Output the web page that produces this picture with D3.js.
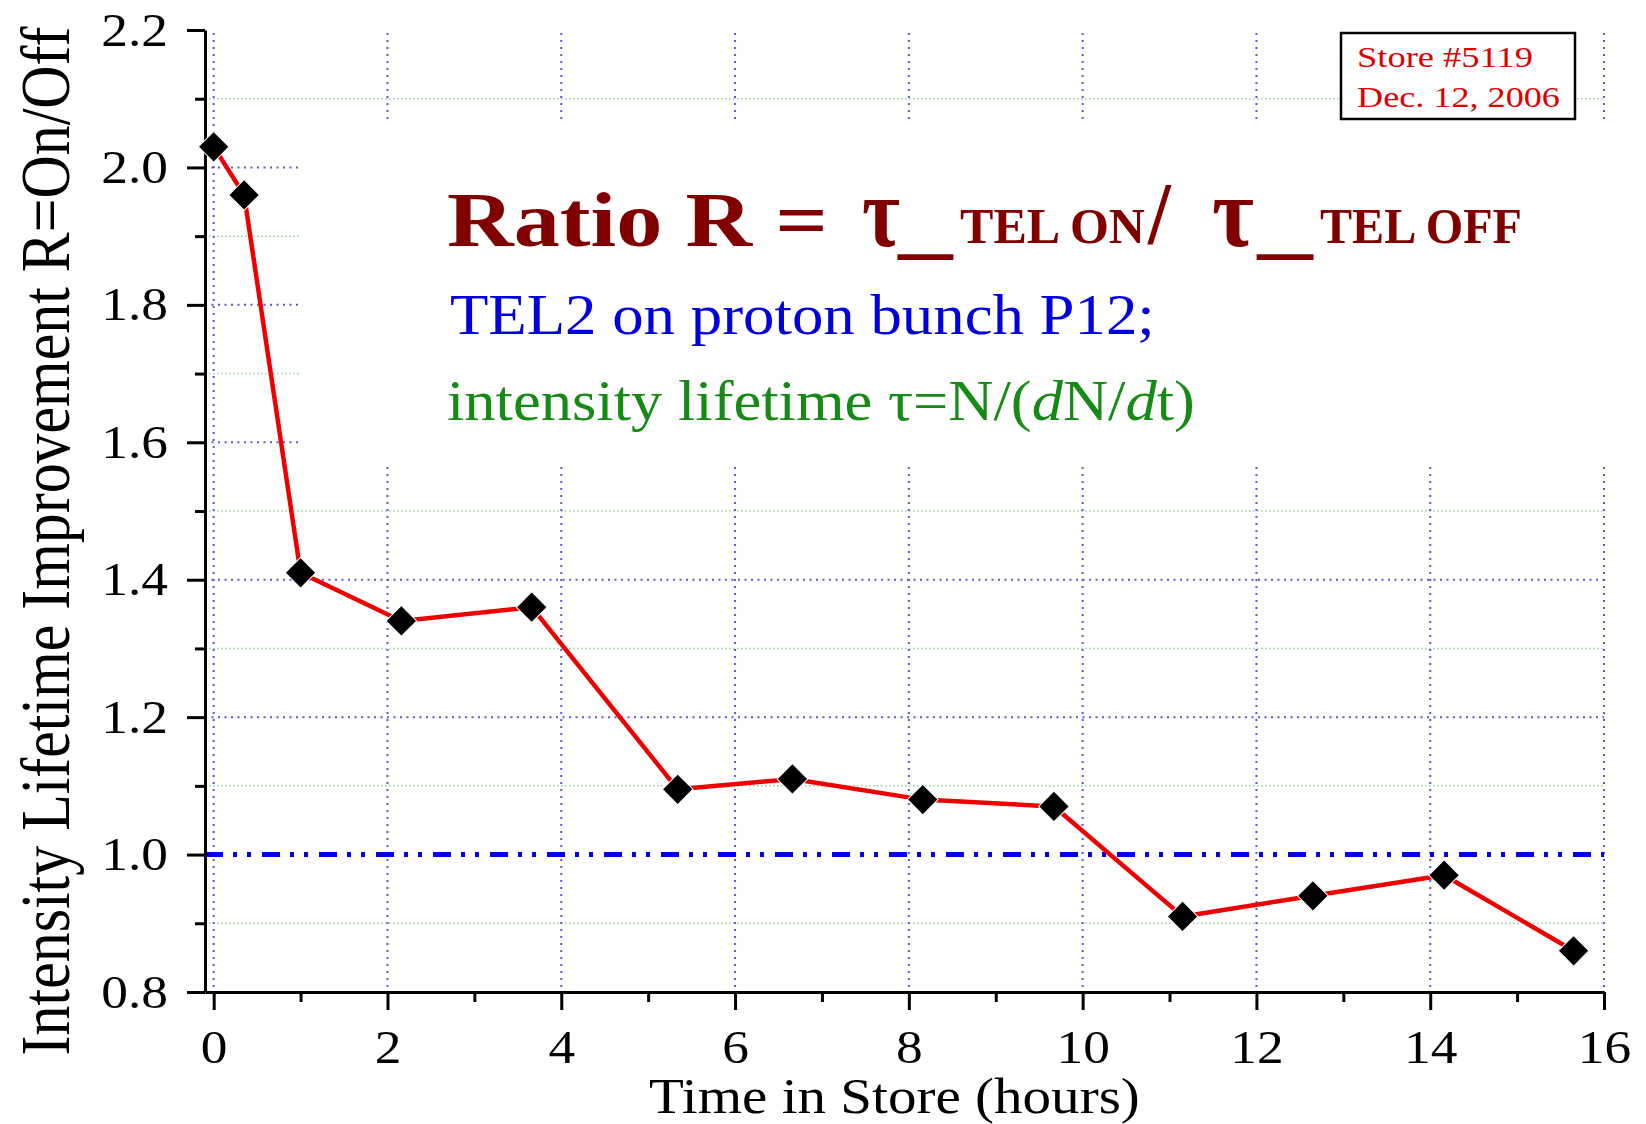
<!DOCTYPE html>
<html>
<head>
<meta charset="utf-8">
<script src="https://cdn.jsdelivr.net/npm/d3@7"></script>
<style>
  html, body { margin: 0; padding: 0; background: #fff; }
  svg { display: block; font-family: "Liberation Serif", "Times New Roman", Times, serif; }
</style>
</head>
<body>
<svg id="chart" width="1646" height="1124"></svg>
<script>
// ---------------- data ----------------
const timeHours = [0, 0.35, 1.0, 2.16, 3.66, 5.34, 6.66, 8.16, 9.67, 11.15, 12.65, 14.16, 15.65];
const ratioR    = [2.03, 1.96, 1.41, 1.34, 1.36, 1.095, 1.11, 1.08, 1.07, 0.91, 0.94, 0.97, 0.86];
const xMajorTicks = [0, 2, 4, 6, 8, 10, 12, 14, 16];
const xMinorTicks = [1, 3, 5, 7, 9, 11, 13, 15];
const yMajorTicks = [0.8, 1.0, 1.2, 1.4, 1.6, 1.8, 2.0, 2.2];
const yMinorTicks = [0.9, 1.1, 1.3, 1.5, 1.7, 1.9, 2.1];
const yMajorGrid  = [1.2, 1.4, 1.6, 1.8, 2.0];
const referenceLevel = 1.0;
const xTitle = "Time in Store (hours)";
const yTitle = "Intensity Lifetime Improvement R=On/Off";
const storeLines = ["Store #5119", "Dec. 12, 2006"];

// ---------------- setup ----------------
const svg = d3.select("#chart");
const FONT = "Liberation Serif";
const SX = 1.16; // horizontal stretch of the source figure's lettering

const x = d3.scaleLinear().domain([-0.1, 16]).range([205, 1604]);
const y = d3.scaleLinear().domain([0.8, 2.2]).range([992, 30]);

// fit a text element horizontally between x0 and x1 at baseline yb
function fit(sel, x0, x1, yb) {
  sel.attr("x", 0).attr("y", 0);
  const bb = sel.node().getBBox();
  const s = (x1 - x0) / bb.width;
  sel.attr("transform", `translate(${x0 - bb.x * s},${yb}) scale(${s},1)`);
  return sel;
}

// ---------------- grid ----------------
const grid = svg.append("g");
grid.selectAll(".gmin").data(yMinorTicks).join("line")
  .attr("x1", x(-0.1)).attr("x2", x(16))
  .attr("y1", d => y(d)).attr("y2", d => y(d))
  .attr("stroke", "#9ccf9c").attr("stroke-width", 1.5)
  .attr("stroke-dasharray", "1.5,2.5");
grid.selectAll(".gmaj").data(yMajorGrid).join("line")
  .attr("x1", x(-0.1)).attr("x2", x(16))
  .attr("y1", d => y(d)).attr("y2", d => y(d))
  .attr("stroke", "#5a5ad6").attr("stroke-width", 2)
  .attr("stroke-dasharray", "2,4.5");
grid.selectAll(".gv").data(xMajorTicks).join("line")
  .attr("x1", d => x(d)).attr("x2", d => x(d))
  .attr("y1", y(2.2) + 3).attr("y2", y(0.8))
  .attr("stroke", "#5a5ad6").attr("stroke-width", 2)
  .attr("stroke-dasharray", "2,5");

// white panel behind the annotation text
svg.append("rect")
  .attr("x", 301).attr("y", 121).attr("width", 1330).attr("height", 345)
  .attr("fill", "#fff");

// ---------------- reference line at R = 1 ----------------
svg.append("line")
  .attr("x1", x(-0.1)).attr("x2", x(16))
  .attr("y1", y(referenceLevel)).attr("y2", y(referenceLevel))
  .attr("stroke", "#0000ee").attr("stroke-width", 5)
  .attr("stroke-dasharray", "18,10,4,10,4,11");

// ---------------- axes ----------------
function styleAxis(g) {
  g.attr("font-family", null);
  g.select(".domain").attr("stroke", "#000").attr("stroke-width", 3);
  g.selectAll(".tick line").attr("stroke", "#000").attr("stroke-width", 3);
}
const yAxis = svg.append("g").attr("transform", `translate(${x(-0.1)},0)`)
  .call(d3.axisLeft(y).tickValues(yMajorTicks).tickSize(18).tickSizeOuter(0)
        .tickFormat(d3.format(".1f")));
styleAxis(yAxis);
yAxis.selectAll(".tick text")
  .attr("x", 0).attr("dy", null).attr("y", 0)
  .attr("text-anchor", "end")
  .attr("transform", `translate(-37,15) scale(${SX},1)`)
  .attr("font-family", FONT).attr("font-size", 46).attr("fill", "#000");
const yMinor = svg.append("g").attr("transform", `translate(${x(-0.1)},0)`)
  .call(d3.axisLeft(y).tickValues(yMinorTicks).tickSize(10).tickSizeOuter(0).tickFormat(""));
styleAxis(yMinor);
yMinor.select(".domain").remove();

const xAxis = svg.append("g").attr("transform", `translate(0,${y(0.8)})`)
  .call(d3.axisBottom(x).tickValues(xMajorTicks).tickSize(18).tickSizeOuter(0)
        .tickFormat(d3.format("d")));
styleAxis(xAxis);
xAxis.selectAll(".tick text")
  .attr("y", 0).attr("dy", null)
  .attr("text-anchor", "middle")
  .attr("transform", `translate(0,71) scale(${SX},1)`)
  .attr("font-family", FONT).attr("font-size", 46).attr("fill", "#000");
const xMinor = svg.append("g").attr("transform", `translate(0,${y(0.8)})`)
  .call(d3.axisBottom(x).tickValues(xMinorTicks).tickSize(10).tickSizeOuter(0).tickFormat(""));
styleAxis(xMinor);
xMinor.select(".domain").remove();

// axis titles
fit(svg.append("text").text(xTitle)
      .attr("font-family", FONT).attr("font-size", 50).attr("fill", "#000"),
    649, 1140, 1113);

const yt = svg.append("text").text(yTitle)
  .attr("font-family", FONT).attr("font-size", 60).attr("fill", "#000")
  .attr("text-anchor", "middle").attr("x", 0).attr("y", 0);
{
  const w = yt.node().getBBox().width;
  yt.attr("transform", `translate(69,541) scale(1.15,1) rotate(-90) scale(${1029 / w},1)`);
}

// ---------------- data line & markers ----------------
const pts = timeHours.map((t, i) => [t, ratioR[i]]);
svg.append("path")
  .datum(pts)
  .attr("d", d3.line().x(d => x(d[0])).y(d => y(d[1])))
  .attr("fill", "none").attr("stroke", "#ee0000").attr("stroke-width", 4.5)
  .attr("stroke-linejoin", "round");
svg.selectAll(".pt").data(pts).join("path")
  .attr("d", d3.symbol(d3.symbolSquare, 470))
  .attr("transform", d => `translate(${x(d[0])},${y(d[1])}) rotate(45)`)
  .attr("fill", "#000").attr("stroke", "#fff").attr("stroke-width", 1);

// ---------------- annotations ----------------
const TITLE = "#800000";
function tpiece(str, size, x0, x1, yb, weight) {
  return fit(svg.append("text").text(str)
      .attr("font-family", FONT).attr("font-size", size)
      .attr("font-weight", weight || "bold").attr("fill", TITLE), x0, x1, yb);
}
tpiece("Ratio R =", 78, 447, 828, 246);
tpiece("\u03C4", 100, 862, 900, 246);
tpiece("_", 80, 897, 954, 249);
tpiece("TEL ON", 50, 960, 1145, 243);
tpiece("/", 88, 1147, 1172, 243);
tpiece("\u03C4", 100, 1212, 1254, 246);
tpiece("_", 80, 1256, 1314, 249);
tpiece("TEL OFF", 50, 1320, 1522, 243);

fit(svg.append("text").text("TEL2 on proton bunch P12;")
      .attr("font-family", FONT).attr("font-size", 57).attr("fill", "#0000dd"),
    450, 1155, 334);

const sub2 = svg.append("text")
  .attr("font-family", FONT).attr("font-size", 57).attr("fill", "#158a15");
[["intensity lifetime \u03C4=N/(", false], ["d", true], ["N/", false], ["d", true], ["t)", false]]
  .forEach(([s, it]) => sub2.append("tspan").text(s).attr("font-style", it ? "italic" : "normal"));
fit(sub2, 447, 1195, 420);

// store box
svg.append("rect")
  .attr("x", 1341).attr("y", 33).attr("width", 234).attr("height", 86)
  .attr("fill", "#fff").attr("stroke", "#000").attr("stroke-width", 2.5);
fit(svg.append("text").text(storeLines[0])
      .attr("font-family", FONT).attr("font-size", 29).attr("fill", "#dd0000"),
    1357, 1533, 67);
fit(svg.append("text").text(storeLines[1])
      .attr("font-family", FONT).attr("font-size", 29).attr("fill", "#dd0000"),
    1357, 1560, 107);
</script>
</body>
</html>
